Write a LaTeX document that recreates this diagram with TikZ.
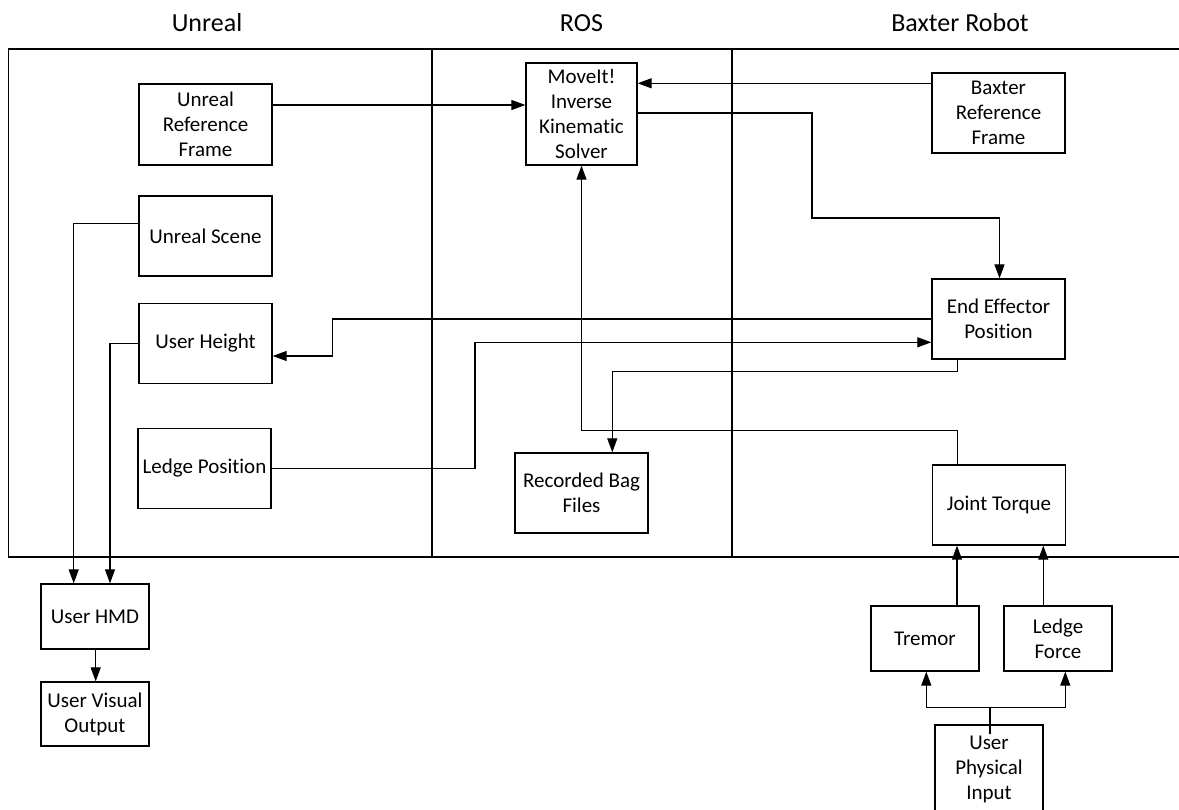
\documentclass[tikz,border=0pt]{standalone}
\usepackage{fontspec}
\setmainfont[Ligatures=NoCommon]{Carlito}
\usetikzlibrary{arrows.meta}
\begin{document}
\begin{tikzpicture}[x=1pt,y=-1pt,
  box/.style={draw, line width=1.3pt, inner sep=0pt, align=center, font=\fontsize{21}{25}\selectfont},
  arr/.style={line width=1.2pt, -{Triangle[length=14pt,width=10pt]}},
  ln/.style={line width=1.3pt},
  title/.style={font=\fontsize{26}{30}\selectfont, anchor=base}]
\useasboundingbox (0,0) rectangle (1179,810);
% frame
\draw[ln] (1179,49) -- (8.5,49) -- (8.5,557) -- (1179,557);
\draw[ln] (432,49) -- (432,557);
\draw[ln] (732,49) -- (732,557);
% titles
\node[title] (t1) at (207,32) {Unreal};
\node[title] (t2) at (581.5,32) {ROS};
\node[title] (t3) at (960,32) {Baxter Robot};
% boxes
\node[box, minimum width=133pt, minimum height=81pt] (uref) at (205.5,124.5) {Unreal\\Reference\\Frame};
\node[box, minimum width=133pt, minimum height=80pt] (uscene) at (205.5,236) {Unreal Scene};
\node[box, minimum width=133pt, minimum height=80pt] (uheight) at (205.5,343.5) {User Height};
\node[box, minimum width=133pt, minimum height=80pt] (ledgepos) at (204.5,468.5) {Ledge Position};
\node[box, minimum width=111pt, minimum height=102pt] (moveit) at (581.5,114) {MoveIt!\\Inverse\\Kinematic\\Solver};
\node[box, minimum width=133pt, minimum height=80pt] (baxref) at (998.5,113) {Baxter\\Reference\\Frame};
\node[box, minimum width=133pt, minimum height=80pt] (endeff) at (998.5,319) {End Effector\\Position};
\node[box, minimum width=133pt, minimum height=80pt] (bag) at (581.5,493) {Recorded Bag\\Files};
\node[box, minimum width=133pt, minimum height=80pt] (torque) at (999,505) {Joint Torque};
\node[box, minimum width=108pt, minimum height=65pt] (tremor) at (925,638.5) {Tremor};
\node[box, minimum width=108pt, minimum height=65pt] (ledgeforce) at (1058,638.5) {Ledge\\Force};
\node[box, minimum width=108pt, minimum height=88pt] (upi) at (989,769) {User\\Physical\\Input};
\node[box, minimum width=108pt, minimum height=65pt] (hmd) at (95,616.5) {User HMD};
\node[box, minimum width=108pt, minimum height=64pt] (uvo) at (95,714) {User Visual\\Output};
% connectors
\draw[arr] ([yshift=19.5pt]uref.east) -- ([yshift=19.5pt]uref.east -| moveit.west);
\draw[arr] ([yshift=29.7pt]baxref.west) -- ([yshift=29.7pt]baxref.west -| moveit.east);
\draw[arr] ([yshift=1pt]moveit.east) -| (812,218) -| ([xshift=1pt]endeff.north);
\draw[arr] ([yshift=12.3pt]uscene.west) -| ([xshift=-21.3pt]hmd.north);
\draw[arr] (uheight.west) -| ([xshift=15pt]hmd.north);
\draw[arr] (endeff.west) -| (332.3,337) |- ([yshift=-12.5pt]uheight.east);
\draw[arr] (ledgepos.east) -| (475,400) |- ([yshift=-23.3pt]endeff.west);
\draw[arr] ([xshift=-40.8pt]endeff.south) |- (612.3,371.7) -- ([xshift=30.8pt]bag.north);
\draw[arr] ([xshift=-41.7pt]torque.north) |- (581.5,430.7) -- (moveit.south);
\draw[arr] ([xshift=32pt]tremor.north) -- ([xshift=-42pt]torque.south);
\draw[arr] ([xshift=-14.7pt]ledgeforce.north) -- ([xshift=44.3pt]torque.south);
\draw[arr] ([xshift=1pt,yshift=-10pt]upi.north) |- (926.3,707.3) -- ([xshift=1.3pt]tremor.south);
\draw[arr] ([xshift=1pt,yshift=-10pt]upi.north) |- (1065.3,707.3) -- ([xshift=7.3pt]ledgeforce.south);
\draw[arr] ([xshift=0.7pt]hmd.south) -- ([xshift=0.7pt]uvo.north);
\end{tikzpicture}
\end{document}
